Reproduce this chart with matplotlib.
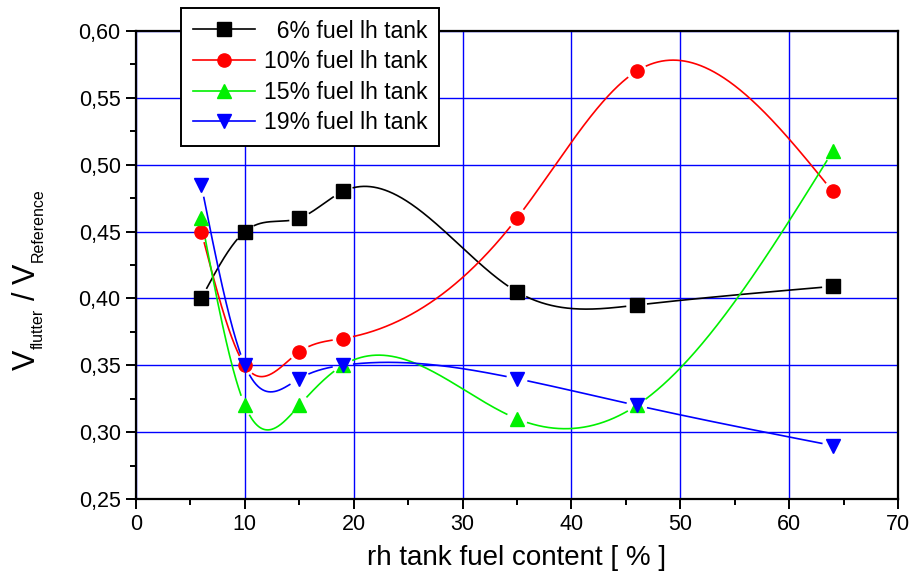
import numpy as np
import matplotlib
matplotlib.use("Agg")
import matplotlib.pyplot as plt
from matplotlib.ticker import MultipleLocator, FuncFormatter
from matplotlib.lines import Line2D

plt.rcParams['font.family'] = ['Liberation Sans', 'DejaVu Sans']

# ---- data ----
rh_fuel = [6, 10, 15, 19, 35, 46, 64]
fuel6 = [0.400, 0.450, 0.460, 0.480, 0.405, 0.395, 0.409]
fuel10 = [0.450, 0.350, 0.360, 0.370, 0.460, 0.570, 0.480]
fuel15 = [0.460, 0.320, 0.320, 0.350, 0.310, 0.320, 0.510]
fuel19 = [0.485, 0.350, 0.340, 0.350, 0.340, 0.320, 0.290]
labels = ["  6% fuel lh tank", "10% fuel lh tank", "15% fuel lh tank", "19% fuel lh tank"]
colors = ["black", "#ff0000", "#00f000", "#0000ff"]
markers = ["s", "o", "^", "v"]
series = [fuel6, fuel10, fuel15, fuel19]


def natural_spline(x, y, xs):
    x = np.asarray(x, float); y = np.asarray(y, float)
    n = len(x)
    h = np.diff(x)
    A = np.zeros((n, n)); b = np.zeros(n)
    A[0, 0] = 1; A[-1, -1] = 1
    for i in range(1, n - 1):
        A[i, i - 1] = h[i - 1]
        A[i, i] = 2 * (h[i - 1] + h[i])
        A[i, i + 1] = h[i]
        b[i] = 6 * ((y[i + 1] - y[i]) / h[i] - (y[i] - y[i - 1]) / h[i - 1])
    M = np.linalg.solve(A, b)
    idx = np.clip(np.searchsorted(x, xs) - 1, 0, n - 2)
    x0 = x[idx]; x1 = x[idx + 1]; hh = x1 - x0
    t0 = x1 - xs; t1 = xs - x0
    return (M[idx] * t0**3 / (6 * hh) + M[idx + 1] * t1**3 / (6 * hh)
            + (y[idx] / hh - M[idx] * hh / 6) * t0
            + (y[idx + 1] / hh - M[idx + 1] * hh / 6) * t1)


W, H = 911, 582
fig = plt.figure(figsize=(W / 100, H / 100), dpi=100)
ax = fig.add_axes([136 / W, 1 - 499 / H, (898 - 136) / W, (499 - 31) / H])
ax.set_xlim(0, 70)
ax.set_ylim(0.25, 0.60)

ax.xaxis.set_major_locator(MultipleLocator(10))
ax.xaxis.set_minor_locator(MultipleLocator(5))
ax.yaxis.set_major_locator(MultipleLocator(0.05))
ax.yaxis.set_minor_locator(MultipleLocator(0.025))
ax.yaxis.set_major_formatter(FuncFormatter(lambda v, p: f"{v:.2f}".replace('.', ',')))
ax.grid(True, which='major', color='#0000ff', linewidth=1.0)
ax.set_axisbelow(True)
ax.tick_params(which='major', direction='out', length=7, width=1.4, pad=4)
ax.tick_params(which='minor', direction='out', length=4, width=1.4)
ax.tick_params(top=False, right=False, which='both')
ax.tick_params(axis='y', labelsize=15.5)
ax.tick_params(axis='x', labelsize=15.5)
for sp in ax.spines.values():
    sp.set_linewidth(1.6)

xs = np.linspace(min(rh_fuel), max(rh_fuel), 1500)
gap = 11.0
for ys, c, m, lab in zip(series, colors, markers, labels):
    curve = natural_spline(rh_fuel, ys, xs)
    pts = ax.transData.transform(np.column_stack([xs, curve]))
    dpts = ax.transData.transform(np.column_stack([rh_fuel, ys]))
    d = np.min(np.hypot(pts[:, None, 0] - dpts[None, :, 0],
                        pts[:, None, 1] - dpts[None, :, 1]), axis=1)
    cm = curve.copy()
    cm[d < gap] = np.nan
    ax.plot(xs, cm, color=c, linewidth=1.2, zorder=3)
    ax.plot(rh_fuel, ys, linestyle='none', marker=m, markersize=9.5,
            color=c, markeredgecolor=c, zorder=4)

handles = [Line2D([], [], color=c, marker=m, markersize=9.5, linewidth=1.2)
           for c, m in zip(colors, markers)]
leg = fig.legend(handles, labels, loc='upper left', bbox_to_anchor=(181 / W, 1 - 8 / H),
                 bbox_transform=fig.transFigure, borderaxespad=0, fontsize=16.6,
                 frameon=True, fancybox=False, edgecolor='black', handlelength=2.7,
                 labelspacing=0.33, borderpad=0.5, handletextpad=0.4, framealpha=1)
leg.get_frame().set_linewidth(1.4)

ax.set_xlabel("rh tank fuel content [ % ]", fontsize=20, labelpad=7)

# y label built from pieces: large "V" with small subscripts
renderer = fig.canvas.get_renderer()
ylab_pieces = [("V", 22, 0, 0), ("flutter", 11.5, 8, 1), ("/", 22, 0, 8),
               ("V", 22, 0, 8), ("Reference", 11.5, 8, 1)]
ypos = H - 370
xbase = 35
for txt, size, shift, pre in ylab_pieces:
    ypos += pre
    t = fig.text((xbase + shift) / W, ypos / H, txt, fontsize=size,
                 rotation=90, rotation_mode='anchor', ha='left', va='baseline')
    bb = t.get_window_extent(renderer)
    ypos += bb.height

fig.savefig("out.png", dpi=100)
